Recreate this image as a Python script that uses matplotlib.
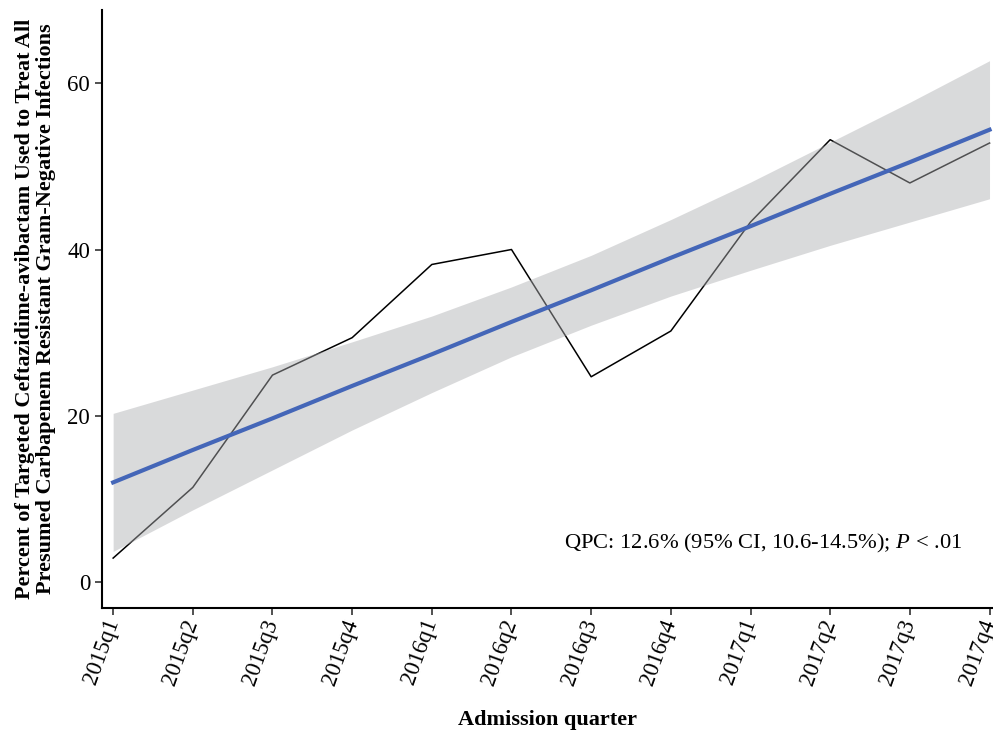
import matplotlib
matplotlib.use("Agg")
import matplotlib.pyplot as plt
import numpy as np

plt.rcParams['font.family'] = ['Liberation Serif', 'DejaVu Serif']
plt.rcParams['mathtext.fontset'] = 'custom'
plt.rcParams['mathtext.rm'] = 'Liberation Serif'
plt.rcParams['mathtext.it'] = 'Liberation Serif:italic'

quarters = ['2015q1', '2015q2', '2015q3', '2015q4',
            '2016q1', '2016q2', '2016q3', '2016q4',
            '2017q1', '2017q2', '2017q3', '2017q4']
observed = [2.9, 11.4, 24.9, 29.4, 38.2, 40.0, 24.7, 30.2, 43.3, 53.2, 48.0, 52.8]

# fitted trend and its 95% band
fitted = [12.0, 15.9, 19.7, 23.6, 27.4, 31.3, 35.1, 39.0, 42.8, 46.7, 50.5, 54.4]
band_hi = [20.3, 23.1, 25.9, 28.9, 32.0, 35.5, 39.3, 43.6, 48.1, 52.9, 57.7, 62.7]
band_lo = [3.7, 8.7, 13.5, 18.3, 22.8, 27.1, 30.9, 34.4, 37.5, 40.5, 43.3, 46.1]

x = np.arange(len(quarters))

fig = plt.figure(figsize=(9.93, 7.32), dpi=100)
ax = fig.add_axes([0.1027, 0.1694, 0.897, 0.817])

ax.plot(x, observed, color='black', linewidth=1.1, zorder=2)
ax.fill_between(x, band_lo, band_hi, color='#aeafb2', alpha=0.46, linewidth=0, zorder=3)
ax.plot(x, fitted, color='#4466b8', linewidth=3.0, zorder=4)

ax.text(10.66, 4.6, 'QPC: 12.6% (95% CI, 10.6-14.5%); $P$ < .01',
        ha='right', va='center', fontsize=16.2)

ax.set_xlim(-0.14, 11.04)
ax.set_ylim(-3.1, 68.8)
ax.set_xticks(x)
ax.set_xticklabels(quarters, rotation=70, ha='right', va='center',
                   rotation_mode='anchor', fontsize=16.5)
ax.set_yticks([0, 20, 40, 60])
ax.tick_params(axis='y', labelsize=16.5)
ax.tick_params(length=5, width=1.2, color='#333333')

for side in ['top', 'right']:
    ax.spines[side].set_visible(False)
for side in ['left', 'bottom']:
    ax.spines[side].set_linewidth(1.5)

ax.set_ylabel('Percent of Targeted Ceftazidime-avibactam Used to Treat All\n'
              'Presumed Carbapenem Resistant Gram-Negative Infections',
              fontsize=16, fontweight='bold', labelpad=8, linespacing=1.05)
ax.set_xlabel('Admission quarter', fontsize=16, fontweight='bold', labelpad=16)

fig.savefig('out.png', dpi=100)
